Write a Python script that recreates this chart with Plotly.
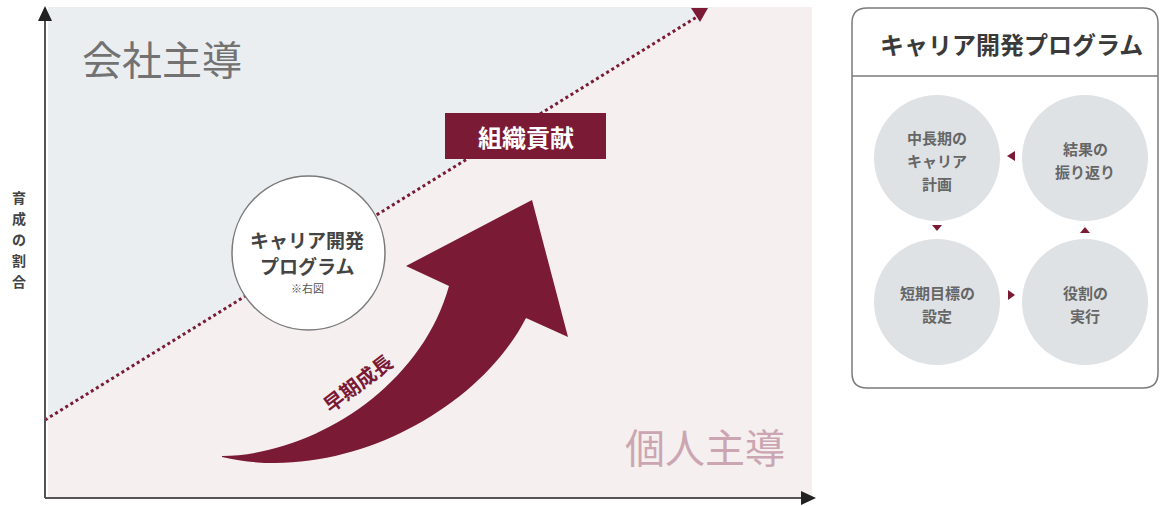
import plotly.graph_objects as go

# ---------------- data ----------------
region_labels = ["会社主導", "個人主導"]
y_axis_label = ["育", "成", "の", "割", "合"]
trend_x = [45, 700]          # dotted "組織貢献" line (pixel-space units)
trend_y = [420, 15]
contribution_label = "組織貢献"
growth_label = "早期成長"
program_label = ["キャリア開発", "プログラム", "※右図"]
panel_title = "キャリア開発プログラム"
cycle_labels = [
    ["中長期の", "キャリア", "計画"],
    ["結果の", "振り返り"],
    ["短期目標の", "設定"],
    ["役割の", "実行"],
]
cycle_cx = [937, 1085, 937, 1085]
cycle_cy = [158, 158, 302, 302]

# ---------------- styles ----------------
MAROON = "#7b1a35"
BLUE_BG = "#eaeef1"
PINK_BG = "#f5eff0"
AXIS = "#555555"
FONT = "Noto Sans CJK JP"

fig = go.Figure()

shapes = []
# backgrounds
shapes.append(dict(type="path", path="M 48,7 L 48,420 L 713,7 Z",
                   fillcolor=BLUE_BG, line=dict(width=0), layer="below"))
shapes.append(dict(type="path", path="M 48,420 L 48,497 L 812,497 L 812,7 L 713,7 Z",
                   fillcolor=PINK_BG, line=dict(width=0), layer="below"))
# axes
shapes.append(dict(type="line", x0=45, y0=498, x1=45, y1=18, line=dict(color=AXIS, width=2)))
shapes.append(dict(type="line", x0=45, y0=498, x1=803, y1=498, line=dict(color=AXIS, width=2)))
shapes.append(dict(type="path", path="M 45,6 L 38,21 L 52,21 Z", fillcolor="#222", line=dict(width=0)))
shapes.append(dict(type="path", path="M 816,498 L 801,491 L 801,505 Z", fillcolor="#222", line=dict(width=0)))
# dotted line arrowhead
shapes.append(dict(type="path", path="M 691,8 L 708,8 L 700,22 Z", fillcolor=MAROON, line=dict(width=0)))
# contribution box
shapes.append(dict(type="rect", x0=445, y0=113, x1=606, y1=159, fillcolor=MAROON, line=dict(width=0)))
# program circle
shapes.append(dict(type="circle", x0=232, y0=176, x1=385, y1=330, fillcolor="white",
                   line=dict(color="#7a7a7a", width=1.5)))
# big curved arrow
shapes.append(dict(type="path",
                   path="M 222,456 C 310,455 420,390 449,286 L 406,266 L 532,200 "
                        "L 568,337 L 526,318 C 478,412 340,485 222,457 Z",
                   fillcolor=MAROON, line=dict(width=0)))
# right panel
shapes.append(dict(type="path",
                   path="M 867,8 L 1143,8 Q 1158,8 1158,23 L 1158,373 Q 1158,388 1143,388 "
                        "L 867,388 Q 852,388 852,373 L 852,23 Q 852,8 867,8 Z",
                   fillcolor="white", line=dict(color="#7a7a7a", width=1.5)))
shapes.append(dict(type="line", x0=852, y0=76, x1=1158, y1=76, line=dict(color="#7a7a7a", width=1.5)))
R = 63
for cx, cy in zip(cycle_cx, cycle_cy):
    shapes.append(dict(type="circle", x0=cx - R, y0=cy - R, x1=cx + R, y1=cy + R,
                       fillcolor="#dfe2e5", line=dict(width=0)))
# cycle triangles
shapes.append(dict(type="path", path="M 1007,156 L 1015,151 L 1015,161 Z", fillcolor=MAROON, line=dict(width=0)))
shapes.append(dict(type="path", path="M 932,225 L 942,225 L 937,231 Z", fillcolor=MAROON, line=dict(width=0)))
shapes.append(dict(type="path", path="M 1008,290 L 1015,295 L 1008,300 Z", fillcolor=MAROON, line=dict(width=0)))
shapes.append(dict(type="path", path="M 1080,233 L 1090,233 L 1085,227 Z", fillcolor=MAROON, line=dict(width=0)))

# dotted trend line
fig.add_trace(go.Scatter(x=trend_x, y=trend_y, mode="lines",
                         line=dict(color=MAROON, width=3, dash="3px,3px"),
                         hoverinfo="skip", showlegend=False))

ann = []
ann.append(dict(x=162, y=58, text=region_labels[0], showarrow=False,
                font=dict(family=FONT, size=40, color="#727272")))
ann.append(dict(x=705, y=446, text=region_labels[1], showarrow=False,
                font=dict(family=FONT, size=40, color="#cba6b2")))
for i, ch in enumerate(y_axis_label):
    ann.append(dict(x=19, y=197 + 21 * i, text="<b>%s</b>" % ch, showarrow=False,
                    font=dict(family=FONT, size=14, color="#444")))
ann.append(dict(x=526, y=136, text="<b>%s</b>" % contribution_label, showarrow=False,
                font=dict(family=FONT, size=24, color="white")))
ann.append(dict(x=307, y=239, text="<b>%s</b>" % program_label[0], showarrow=False,
                font=dict(family=FONT, size=19, color="#444")))
ann.append(dict(x=307, y=265, text="<b>%s</b>" % program_label[1], showarrow=False,
                font=dict(family=FONT, size=19, color="#444")))
ann.append(dict(x=307, y=288, text=program_label[2], showarrow=False,
                font=dict(family=FONT, size=11, color="#555")))
ann.append(dict(x=357, y=382, text="<b>%s</b>" % growth_label, showarrow=False, textangle=-37,
                font=dict(family=FONT, size=20, color=MAROON)))
ann.append(dict(x=1011, y=43, text="<b>%s</b>" % panel_title, showarrow=False,
                font=dict(family=FONT, size=24, color="#3a3a3a")))
for lines, cx, cy in zip(cycle_labels, cycle_cx, cycle_cy):
    n = len(lines)
    for j, ln in enumerate(lines):
        yy = cy + 2 + (j - (n - 1) / 2) * 23
        ann.append(dict(x=cx, y=yy, text="<b>%s</b>" % ln, showarrow=False,
                        font=dict(family=FONT, size=15, color="#666")))

for a in ann:
    a.update(xref="x", yref="y")
for s in shapes:
    s.update(xref="x", yref="y")

fig.update_layout(
    width=1160, height=506,
    margin=dict(l=0, r=0, t=0, b=0),
    paper_bgcolor="white", plot_bgcolor="white",
    xaxis=dict(range=[0, 1160], visible=False, fixedrange=True),
    yaxis=dict(range=[506, 0], visible=False, fixedrange=True),
    shapes=shapes, annotations=ann, showlegend=False,
)
fig.write_html("out.html")
